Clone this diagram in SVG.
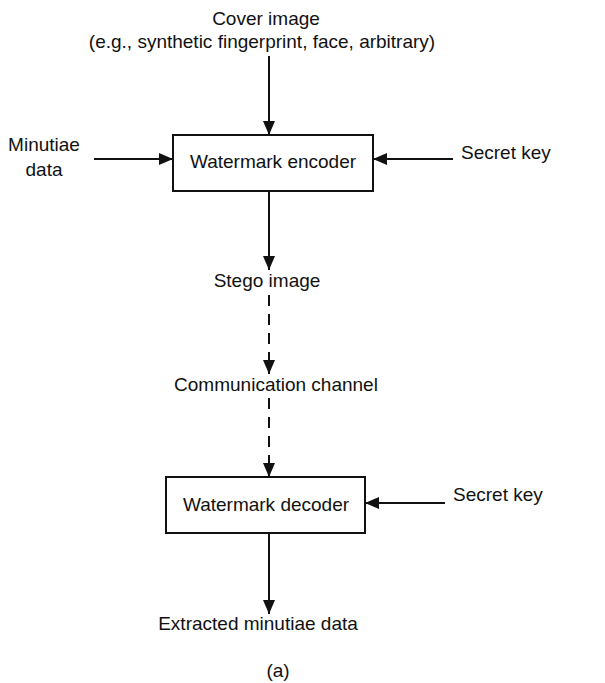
<svg xmlns="http://www.w3.org/2000/svg" width="605" height="683" viewBox="0 0 605 683">
<style>
text{font-family:"Liberation Sans",Arial,sans-serif;font-size:19px;fill:#111}
.box{fill:#fff;stroke:#111;stroke-width:2}
.c{stroke:#111;stroke-width:2;fill:none}
.d{stroke-dasharray:11 8}
</style>
<defs>
<marker id="ah" markerUnits="userSpaceOnUse" markerWidth="14" markerHeight="12" refX="14" refY="6" orient="auto">
<path d="M0,0 L14,6 L0,12 z" fill="#111"/>
</marker>
</defs>
<rect width="605" height="683" fill="#fff"/>
<g id="connectors">
<line class="c" x1="269" y1="56" x2="269" y2="135" marker-end="url(#ah)"/>
<line class="c" x1="94" y1="159" x2="173" y2="159" marker-end="url(#ah)"/>
<line class="c" x1="453" y1="159" x2="373" y2="159" marker-end="url(#ah)"/>
<line class="c" x1="269" y1="191" x2="269" y2="270" marker-end="url(#ah)"/>
<line class="c d" x1="269" y1="295" x2="269" y2="374" marker-end="url(#ah)"/>
<line class="c d" x1="269" y1="398" x2="269" y2="477" marker-end="url(#ah)"/>
<line class="c" x1="445" y1="503" x2="365" y2="503" marker-end="url(#ah)"/>
<line class="c" x1="269" y1="533" x2="269" y2="614" marker-end="url(#ah)"/>
</g>
<g id="cover">
<text x="266" y="25" text-anchor="middle">Cover image</text>
<text x="262" y="48" text-anchor="middle">(e.g., synthetic fingerprint, face, arbitrary)</text>
</g>
<g id="minutiae">
<text x="44" y="151" text-anchor="middle">Minutiae</text>
<text x="44" y="176" text-anchor="middle">data</text>
</g>
<g id="encoder">
<rect class="box" x="173" y="135" width="200" height="56"/>
<text x="273" y="168" text-anchor="middle">Watermark encoder</text>
</g>
<g id="key1">
<text x="461" y="159">Secret key</text>
</g>
<g id="stego">
<text x="267" y="287" text-anchor="middle">Stego image</text>
</g>
<g id="channel">
<text x="276" y="391" text-anchor="middle">Communication channel</text>
</g>
<g id="decoder">
<rect class="box" x="166" y="477" width="199" height="56"/>
<text x="266" y="511" text-anchor="middle">Watermark decoder</text>
</g>
<g id="key2">
<text x="453" y="501">Secret key</text>
</g>
<g id="extracted">
<text x="258" y="630" text-anchor="middle">Extracted minutiae data</text>
</g>
<g id="caption">
<text x="278" y="677" text-anchor="middle">(a)</text>
</g>
</svg>
